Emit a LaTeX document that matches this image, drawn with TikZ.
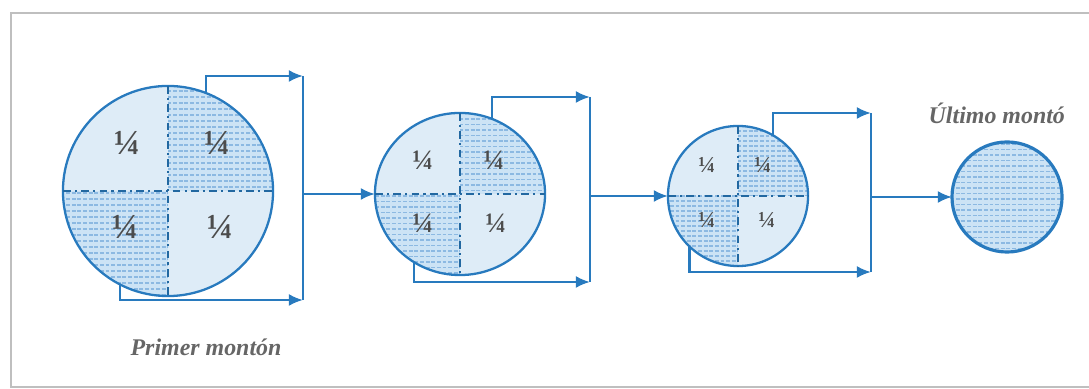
\documentclass[tikz,border=0pt]{standalone}
\usepackage{fontspec}
\setmainfont{Liberation Serif}
\usetikzlibrary{positioning, arrows.meta, shapes.geometric}
\definecolor{heapblue}{RGB}{40,122,190}
\definecolor{heaplight}{RGB}{222,236,247}
\definecolor{heaphatch}{RGB}{204,227,245}
\definecolor{hatchline}{RGB}{140,185,226}
\newcommand{\hatchquad}[5]{%
  \begin{scope}
    \clip (#1,#2) rectangle (#3,#4);
    \fill[heaphatch] (#1,#2) rectangle (#3,#4);
    \foreach \yy in {-130,#5,...,130}
      \draw[hatchline, line width=0.3pt, dash pattern=on 1.1pt off 0.5pt] (-130,\yy) -- (130,\yy);
  \end{scope}}
\tikzset{
    heap/.style={circle, draw=heapblue, line width=0.65pt, fill=heaplight, inner sep=0pt, outer sep=0pt},
    halves/.style={path picture={\begin{scope}[shift={(path picture bounding box.center)}]
        \hatchquad{0}{0}{130}{-130}{#1}\hatchquad{-130}{130}{0}{0}{#1}\end{scope}}},
    whole/.style={path picture={\begin{scope}[shift={(path picture bounding box.center)}]
        \hatchquad{-130}{-130}{130}{130}{#1}\end{scope}}},
    split/.style={draw=heapblue!85!black, line width=0.5pt, dash pattern=on 2.2pt off 1.2pt on 0.6pt off 1.2pt},
    flow/.style={draw=heapblue, line width=0.65pt, -{Latex[length=4pt, width=3.4pt]}},
    rail/.style={draw=heapblue, line width=0.65pt},
    quarter/.style={font=\bfseries\fontsize{#1}{#1}\selectfont, text=black!70, inner sep=0pt},
    caption/.style={font=\bfseries\itshape\fontsize{6.8}{8}\selectfont, text=black!60, inner sep=0pt}
}

\begin{document}
\begin{tikzpicture}[x=0.01cm, y=-0.01cm]
\useasboundingbox (0,0) rectangle (1089,389);
\draw[black!25, line width=0.8pt] (1120,387) -| (11,13) -- (1120,13);

% Heaps
\node[heap, halves=-124, minimum size=2.1cm] (c1) at (168,191) {};
\node[heap, ellipse, halves=-124.5, minimum width=1.70cm, minimum height=1.62cm] (c2) at (460,194) {};
\node[heap, halves=-125, minimum size=1.40cm] (c3) at (738,196) {};
\node[heap, whole=-124.5, line width=0.9pt, minimum size=1.10cm] (c4) at (1007,197) {};

% Dividers
\foreach \c in {c1, c2, c3} {
  \draw[split] (\c.north) -- (\c.south);
  \draw[split] (\c.west) -- (\c.east);
}

% Quarters
\node[quarter=10] (q11) at (127,143) {¼};
\node[quarter=10] (q12) at (217,143) {¼};
\node[quarter=10] (q13) at (125,227) {¼};
\node[quarter=10] (q14) at (220,227) {¼};
\node[quarter=8] (q21) at (423,160) {¼};
\node[quarter=8] (q22) at (494,160) {¼};
\node[quarter=8] (q23) at (423,223) {¼};
\node[quarter=8] (q24) at (496,223) {¼};
\node[quarter=6.5] (q31) at (707,165) {¼};
\node[quarter=6.5] (q32) at (763,165) {¼};
\node[quarter=6.5] (q33) at (707,220) {¼};
\node[quarter=6.5] (q34) at (767,220) {¼};

% Rails
\coordinate (t1) at (303,76);
\coordinate (b1) at (303,300);
\coordinate (t2) at (590,97);
\coordinate (b2) at (590,282);
\coordinate (t3) at (871,113);
\coordinate (b3) at (871,272);

% Splitting and joining
\draw[flow] (c1.69) |- (t1);
\draw[flow] (c1.243) |- (b1);
\draw[rail] (t1) -- (b1);
\draw[flow] (t1 |- c2.west) -- (c2.west);
\draw[flow] (c2.67) |- (t2);
\draw[flow] (c2.236) |- (b2);
\draw[rail] (t2) -- (b2);
\draw[flow] (t2 |- c3.west) -- (c3.west);
\draw[flow] (c3.60) |- (t3);
\draw[flow] (c3.226) |- (b3);
\draw[rail] (t3) -- (b3);
\draw[flow] (t3 |- c4.west) -- (c4.west);

% Captions
\node[caption] (first) at (206,347) {Primer montón};
\begin{scope}
  \clip (900,90) rectangle (1063,135);
  \node[caption, anchor=west] (last) at (928,113) {Último montón};
\end{scope}

\end{tikzpicture}
\end{document}
